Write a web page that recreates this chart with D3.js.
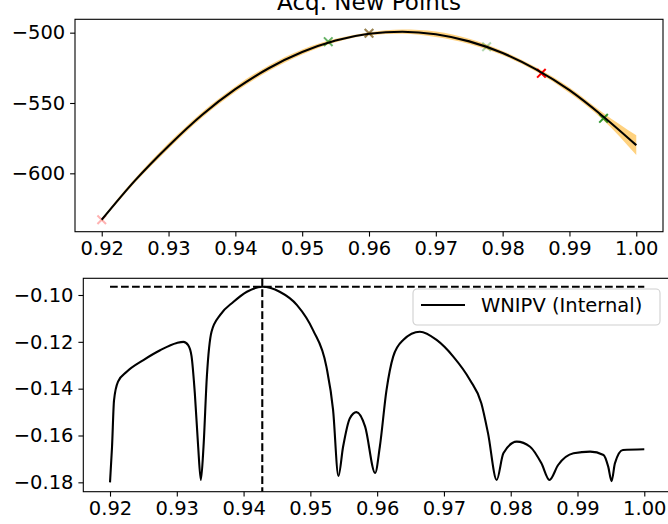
<!DOCTYPE html>
<html>
<head>
<meta charset="utf-8">
<script src="https://cdn.jsdelivr.net/npm/d3@7"></script>
<style>
  body { margin: 0; background: #fff; }
  svg { display: block; font-family: "DejaVu Sans", sans-serif; }
</style>
</head>
<body>
<svg id="chart" width="668" height="524"></svg>
<script>
// top panel: surrogate mean and spread
var meanX = [0.920, 0.925, 0.930, 0.935, 0.940, 0.945, 0.950, 0.955, 0.960,
             0.965, 0.970, 0.975, 0.980, 0.985, 0.990, 0.995, 1.000];
var meanY = [-633, -605, -580.5, -558.5, -540.2, -525.3, -513.8, -505.6, -500.8,
             -499.3, -501.1, -506.2, -514.5, -526.1, -540.9, -559.4, -580];
var stdY  = [1, 1.5, 2, 2, 2, 2, 1.8, 1.2, 1,
             1.5, 2, 1.8, 1.5, 1.5, 2, 2.5, 7];

// acquired points (x markers)
var ptsX     = [0.920, 0.9539, 0.960, 0.960, 0.9776, 0.9858, 0.9951];
var ptsY     = [-633, -506.4, -500.4, -500.4, -510, -528.9, -560.9];
var ptsColor = ["red", "green", "green", "red", "green", "red", "green"];
var ptsAlpha = [0.3, 0.6, 0.55, 0.3, 0.3, 1, 0.8];

// bottom panel: WNIPV (Internal)
var wX = [0.9200, 0.9203, 0.9206, 0.9212, 0.9225, 0.9250, 0.9275, 0.9300, 0.9310, 0.9317,
          0.9322, 0.9327, 0.9332, 0.9336, 0.9340, 0.9345, 0.9352, 0.9365, 0.9385, 0.9405,
          0.9428, 0.9454, 0.9480, 0.9504, 0.9524, 0.9534, 0.9542, 0.9549, 0.9559, 0.9569,
          0.9582, 0.9597, 0.9604, 0.9614, 0.9624, 0.9639, 0.9664, 0.9689, 0.9714, 0.9739,
          0.9756, 0.9766, 0.9779, 0.9789, 0.9809, 0.9829, 0.9846, 0.9858, 0.9871, 0.9894,
          0.9919, 0.9939, 0.9946, 0.9951, 0.9956, 0.9968, 1.0000];
var wY = [-0.1800, -0.1650, -0.1450, -0.1370, -0.1328, -0.1278, -0.1236, -0.1205, -0.1200, -0.1214,
          -0.1260, -0.1420, -0.1648, -0.1790, -0.1648, -0.1349, -0.1157, -0.1085, -0.1029, -0.0986,
          -0.0965, -0.0986, -0.1043, -0.1150, -0.1306, -0.1491, -0.1773, -0.1648, -0.1527, -0.1500,
          -0.1562, -0.1760, -0.1648, -0.1406, -0.1263, -0.1192, -0.1157, -0.1192, -0.1263, -0.1363,
          -0.1462, -0.1590, -0.1790, -0.1676, -0.1626, -0.1648, -0.1719, -0.1790, -0.1726, -0.1676,
          -0.1669, -0.1683, -0.1733, -0.1795, -0.1719, -0.1662, -0.1659];
var bestX = 0.9428;
var bestY = -0.0965;

var xTicks = [0.92, 0.93, 0.94, 0.95, 0.96, 0.97, 0.98, 0.99, 1.00];
var topYTicks = [-500, -550, -600];
var botYTicks = [-0.10, -0.12, -0.14, -0.16, -0.18];

var svg = d3.select('#chart');
var fs = 19.5;

function styleAxis(g)
{
    g.selectAll('path.domain').remove();
    g.selectAll('.tick line').attr('stroke', '#000').attr('stroke-width', 1.1);
    g.selectAll('.tick text').attr('fill', '#000').style('font-size', fs + 'px')
     .style('font-family', '"DejaVu Sans", sans-serif');
}

// ---------- top panel ----------
var t = { left: 75, right: 663, top: 19.3, bottom: 231.7 };
var xTop = d3.scaleLinear().domain([0.916, 1.004]).range([t.left, t.right]);
var yTop = d3.scaleLinear().domain([-641.5, -490.5]).range([t.bottom, t.top]);

svg.append('text')
    .attr('x', (t.left + t.right) / 2)
    .attr('y', 10)
    .attr('text-anchor', 'middle')
    .style('font-size', '23px')
    .text('Acq. New Points');

var topG = svg.append('g');
var meanData = meanX.map(function(d, i) { return { x: d, y: meanY[i], s: stdY[i] }; });

topG.append('path')
    .datum(meanData)
    .attr('fill', 'orange')
    .attr('opacity', 0.5)
    .attr('d', d3.area().curve(d3.curveMonotoneX)
        .x(function(d) { return xTop(d.x); })
        .y0(function(d) { return yTop(d.y - d.s); })
        .y1(function(d) { return yTop(d.y + d.s); }));

var ptsData = ptsX.map(function(d, i) { return { x: d, y: ptsY[i], c: ptsColor[i], a: ptsAlpha[i] }; });
var r = 4.3;
topG.selectAll('path.pt')
    .data(ptsData)
    .enter().append('path')
    .attr('class', 'pt')
    .attr('d', function(d) {
        var cx = xTop(d.x), cy = yTop(d.y);
        return 'M' + (cx - r) + ',' + (cy - r) + 'L' + (cx + r) + ',' + (cy + r) +
               'M' + (cx - r) + ',' + (cy + r) + 'L' + (cx + r) + ',' + (cy - r);
    })
    .attr('stroke', function(d) { return d.c; })
    .attr('stroke-opacity', function(d) { return d.a; })
    .attr('stroke-width', 2)
    .attr('fill', 'none');

topG.append('path')
    .datum(meanData)
    .attr('fill', 'none')
    .attr('stroke', '#000')
    .attr('stroke-width', 2.1)
    .attr('d', d3.line().curve(d3.curveMonotoneX)
        .x(function(d) { return xTop(d.x); })
        .y(function(d) { return yTop(d.y); }));

svg.append('rect')
    .attr('x', t.left).attr('y', t.top)
    .attr('width', t.right - t.left).attr('height', t.bottom - t.top)
    .attr('fill', 'none').attr('stroke', '#000').attr('stroke-width', 1.1);

svg.append('g')
    .attr('transform', 'translate(0,' + t.bottom + ')')
    .call(d3.axisBottom(xTop).tickValues(xTicks).tickFormat(d3.format('.2f'))
        .tickSize(4.9).tickPadding(4.9))
    .call(styleAxis);

svg.append('g')
    .attr('transform', 'translate(' + t.left + ',0)')
    .call(d3.axisLeft(yTop).tickValues(topYTicks).tickFormat(function(d) { return '\u2212' + Math.abs(d); })
        .tickSize(4.9).tickPadding(4.9))
    .call(styleAxis);

// ---------- bottom panel ----------
var b = { left: 83.3, right: 671, top: 278.3, bottom: 491.7 };
var xBot = d3.scaleLinear().domain([0.916, 1.004]).range([b.left, b.right]);
var yBot = d3.scaleLinear().domain([-0.1840, -0.09287]).range([b.bottom, b.top]);

var wData = wX.map(function(d, i) { return { x: d, y: wY[i] }; });

svg.append('path')
    .datum(wData)
    .attr('fill', 'none')
    .attr('stroke', '#000')
    .attr('stroke-width', 2.1)
    .attr('d', d3.line().curve(d3.curveMonotoneX)
        .x(function(d) { return xBot(d.x); })
        .y(function(d) { return yBot(d.y); }));

// best point guides
svg.append('line')
    .attr('x1', xBot(0.92)).attr('x2', xBot(1.00))
    .attr('y1', yBot(bestY)).attr('y2', yBot(bestY))
    .attr('stroke', '#000').attr('stroke-width', 2.1).attr('stroke-dasharray', '7.7,3.3');
svg.append('line')
    .attr('x1', xBot(bestX)).attr('x2', xBot(bestX))
    .attr('y1', b.top).attr('y2', b.bottom)
    .attr('stroke', '#000').attr('stroke-width', 2.1).attr('stroke-dasharray', '7.7,3.3');

svg.append('rect')
    .attr('x', b.left).attr('y', b.top)
    .attr('width', b.right - b.left).attr('height', b.bottom - b.top)
    .attr('fill', 'none').attr('stroke', '#000').attr('stroke-width', 1.1);

svg.append('g')
    .attr('transform', 'translate(0,' + b.bottom + ')')
    .call(d3.axisBottom(xBot).tickValues(xTicks).tickFormat(d3.format('.2f'))
        .tickSize(4.9).tickPadding(4.9))
    .call(styleAxis);

svg.append('g')
    .attr('transform', 'translate(' + b.left + ',0)')
    .call(d3.axisLeft(yBot).tickValues(botYTicks).tickFormat(function(d) { return '\u2212' + d3.format('.2f')(Math.abs(d)); })
        .tickSize(4.9).tickPadding(4.9))
    .call(styleAxis);

// legend
var legend = svg.append('g').attr('transform', 'translate(413,289)');
legend.append('rect')
    .attr('width', 247).attr('height', 36).attr('rx', 4)
    .attr('fill', '#fff').attr('fill-opacity', 0.8)
    .attr('stroke', '#d0d0d0').attr('stroke-width', 1.1);
legend.append('line')
    .attr('x1', 8).attr('x2', 52).attr('y1', 16).attr('y2', 16)
    .attr('stroke', '#000').attr('stroke-width', 2.1);
legend.append('text')
    .attr('x', 68).attr('y', 23)
    .style('font-size', fs + 'px')
    .text('WNIPV (Internal)');
</script>
</body>
</html>
